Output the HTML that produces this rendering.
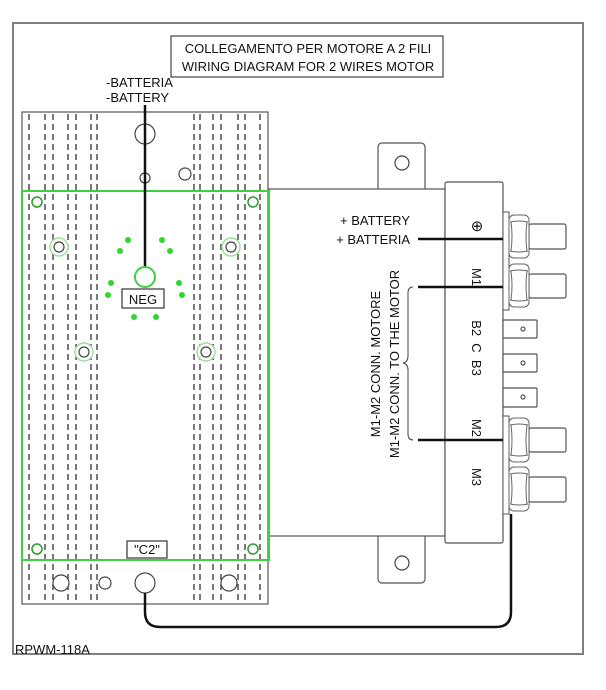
<!DOCTYPE html>
<html><head><meta charset="utf-8"><style>
html,body{margin:0;padding:0;background:#fff;}
svg{display:block;}
text{font-family:"Liberation Sans",Arial,sans-serif;fill:#111;}
</style></head><body>
<svg width="606" height="690" viewBox="0 0 606 690" xmlns="http://www.w3.org/2000/svg">
<!-- outer frame -->
<rect x="13" y="23" width="570" height="631" fill="none" stroke="#808080" stroke-width="2"/>
<!-- title box -->
<rect x="171" y="36" width="272" height="41" fill="none" stroke="#444" stroke-width="1.2"/>
<text x="308" y="53" font-size="13" text-anchor="middle">COLLEGAMENTO PER MOTORE A 2 FILI</text>
<text x="308" y="71" font-size="13" text-anchor="middle">WIRING DIAGRAM FOR 2 WIRES MOTOR</text>
<text x="106" y="87" font-size="13">-BATTERIA</text>
<text x="106" y="102" font-size="13">-BATTERY</text>

<!-- heatsink -->
<rect x="22" y="112" width="246" height="492" fill="none" stroke="#555" stroke-width="1.2"/>
<g stroke="#333" stroke-width="1.3" stroke-dasharray="6 4">
<line x1="29" y1="114" x2="29" y2="603"/>
<line x1="45" y1="114" x2="45" y2="603"/>
<line x1="53" y1="114" x2="53" y2="603"/>
<line x1="68" y1="114" x2="68" y2="603"/>
<line x1="76" y1="114" x2="76" y2="603"/>
<line x1="91" y1="114" x2="91" y2="603"/>
<line x1="97" y1="114" x2="97" y2="603"/>
<line x1="194" y1="114" x2="194" y2="603"/>
<line x1="200" y1="114" x2="200" y2="603"/>
<line x1="213" y1="114" x2="213" y2="603"/>
<line x1="221" y1="114" x2="221" y2="603"/>
<line x1="238" y1="114" x2="238" y2="603"/>
<line x1="245" y1="114" x2="245" y2="603"/>
<line x1="260" y1="114" x2="260" y2="603"/>
</g>
<!-- holes top -->
<circle cx="145" cy="134" r="10" fill="none" stroke="#444" stroke-width="1.2"/>
<circle cx="145" cy="178" r="5" fill="#fff" stroke="#444" stroke-width="1.2"/>
<circle cx="185" cy="174" r="6" fill="#fff" stroke="#444" stroke-width="1.2"/>

<!-- controller body -->
<rect x="378" y="143" width="47" height="50" rx="4" fill="#fff" stroke="#555" stroke-width="1.2"/>
<circle cx="402" cy="163" r="7" fill="none" stroke="#444" stroke-width="1.2"/>
<rect x="378" y="530" width="47" height="53" rx="4" fill="#fff" stroke="#555" stroke-width="1.2"/>
<circle cx="402" cy="563" r="7" fill="none" stroke="#444" stroke-width="1.2"/>
<rect x="269" y="189" width="176" height="347" fill="#fff" stroke="#555" stroke-width="1.2"/>

<!-- green plate -->
<rect x="22" y="191" width="247" height="369" fill="none" stroke="#3fcf3f" stroke-width="2"/>
<g fill="#fff" stroke="#2a9a2a" stroke-width="1.5">
<circle cx="37" cy="202" r="5"/><circle cx="253" cy="202" r="5"/>
<circle cx="37" cy="549" r="5"/><circle cx="253" cy="549" r="5"/>
</g>
<g>
<circle cx="59" cy="247" r="9" fill="#fff" stroke="#9ee09e" stroke-width="1.5"/>
<circle cx="59" cy="247" r="5" fill="#fff" stroke="#444" stroke-width="1.2"/>
<circle cx="231" cy="247" r="9" fill="#fff" stroke="#9ee09e" stroke-width="1.5"/>
<circle cx="231" cy="247" r="5" fill="#fff" stroke="#444" stroke-width="1.2"/>
<circle cx="84" cy="352" r="9" fill="#fff" stroke="#9ee09e" stroke-width="1.5"/>
<circle cx="84" cy="352" r="5" fill="#fff" stroke="#444" stroke-width="1.2"/>
<circle cx="206" cy="352" r="9" fill="#fff" stroke="#9ee09e" stroke-width="1.5"/>
<circle cx="206" cy="352" r="5" fill="#fff" stroke="#444" stroke-width="1.2"/>
</g>
<!-- green dots -->
<g fill="#2ed82e">
<circle cx="128" cy="240" r="3"/><circle cx="120" cy="251" r="3"/>
<circle cx="162" cy="240" r="3"/><circle cx="170" cy="251" r="3"/>
<circle cx="111" cy="283" r="3"/><circle cx="108" cy="295" r="3"/>
<circle cx="179" cy="283" r="3"/><circle cx="182" cy="295" r="3"/>
<circle cx="134" cy="317" r="3"/><circle cx="156" cy="317" r="3"/>
</g>
<!-- negative wire -->
<line x1="145" y1="105" x2="145" y2="267" stroke="#111" stroke-width="2.5"/>
<circle cx="145" cy="277" r="10" fill="#fff" stroke="#3fcf3f" stroke-width="2"/>
<rect x="122" y="289" width="42" height="19" fill="#fff" stroke="#333" stroke-width="1.2"/>
<text x="143" y="304" font-size="13" text-anchor="middle">NEG</text>

<rect x="127" y="541" width="40" height="17" fill="#fff" stroke="#333" stroke-width="1.2"/>
<text x="147" y="554" font-size="13" text-anchor="middle">"C2"</text>

<!-- bottom holes -->
<g fill="#fff" stroke="#444" stroke-width="1.2">
<circle cx="61" cy="583" r="8"/><circle cx="105" cy="583" r="6"/>
<circle cx="145" cy="583" r="10"/><circle cx="229" cy="583" r="8"/>
</g>

<!-- terminal block -->
<rect x="445" y="182" width="58" height="361" rx="2" fill="#fff" stroke="#555" stroke-width="1.2"/>
<rect x="503" y="212" width="6" height="98" fill="#fff" stroke="#555" stroke-width="1"/>
<rect x="503" y="416" width="6" height="98" fill="#fff" stroke="#555" stroke-width="1"/>
<!-- studs -->
<g fill="#fff" stroke="#555" stroke-width="1.2">
<rect x="529" y="224" width="37" height="25" rx="2"/>
<rect x="529" y="274" width="37" height="24" rx="2"/>
<rect x="529" y="428" width="37" height="24" rx="2"/>
<rect x="529" y="477" width="37" height="25" rx="2"/>
</g>
<!-- nuts -->
<g fill="#fff" stroke="#666" stroke-width="1">
<g transform="translate(509,215)"><rect x="0" y="0" width="20" height="43" rx="5"/><path d="M1 7 Q10 5 19 7 M1 36 Q10 38 19 36 M2 7 Q4 21.5 2 36 M18 7 Q16 21.5 18 36" fill="none"/></g>
<g transform="translate(509,264)"><rect x="0" y="0" width="20" height="43" rx="5"/><path d="M1 7 Q10 5 19 7 M1 36 Q10 38 19 36 M2 7 Q4 21.5 2 36 M18 7 Q16 21.5 18 36" fill="none"/></g>
<g transform="translate(509,418)"><rect x="0" y="0" width="20" height="44" rx="5"/><path d="M1 7 Q10 5 19 7 M1 37 Q10 39 19 37 M2 7 Q4 22 2 37 M18 7 Q16 22 18 37" fill="none"/></g>
<g transform="translate(509,467)"><rect x="0" y="0" width="20" height="44" rx="5"/><path d="M1 7 Q10 5 19 7 M1 37 Q10 39 19 37 M2 7 Q4 22 2 37 M18 7 Q16 22 18 37" fill="none"/></g>
</g>
<!-- small tabs -->
<g fill="#fff" stroke="#555" stroke-width="1.2">
<rect x="503" y="320" width="34" height="18" rx="1"/>
<rect x="503" y="354" width="34" height="18" rx="1"/>
<rect x="503" y="388" width="34" height="19" rx="1"/>
<circle cx="523" cy="329" r="2"/><circle cx="523" cy="363" r="2"/><circle cx="523" cy="397" r="2"/>
</g>
<!-- terminal labels -->
<text x="477" y="231" font-size="15" text-anchor="middle">⊕</text>
<text font-size="13" text-anchor="middle" transform="translate(472,277) rotate(90)">M1</text>
<text font-size="13" text-anchor="middle" transform="translate(472,348) rotate(90)" xml:space="preserve">B2  C  B3</text>
<text font-size="13" text-anchor="middle" transform="translate(472,428) rotate(90)">M2</text>
<text font-size="13" text-anchor="middle" transform="translate(472,477) rotate(90)">M3</text>

<!-- wires -->
<g stroke="#111" stroke-width="2.5" fill="none">
<line x1="418" y1="239" x2="503" y2="239"/>
<line x1="418" y1="287" x2="503" y2="287"/>
<line x1="418" y1="440" x2="503" y2="440"/>
<path d="M145 593 V612 Q145 627 160 627 H496 Q511 627 511 612 V514"/>
</g>
<!-- brace -->
<path d="M413 287 Q408 287 408 293 V356 Q408 362 403 363 Q408 364 408 370 V434 Q408 440 413 440" fill="none" stroke="#444" stroke-width="1"/>

<text x="410" y="225" font-size="13" text-anchor="end">+ BATTERY</text>
<text x="410" y="244" font-size="13" text-anchor="end">+ BATTERIA</text>
<text font-size="13" text-anchor="middle" transform="translate(380,364) rotate(-90)">M1-M2 CONN. MOTORE</text>
<text font-size="13" text-anchor="middle" transform="translate(399,364) rotate(-90)">M1-M2 CONN. TO THE MOTOR</text>

<text x="15" y="654" font-size="13">RPWM-118A</text>
</svg>
</body></html>
